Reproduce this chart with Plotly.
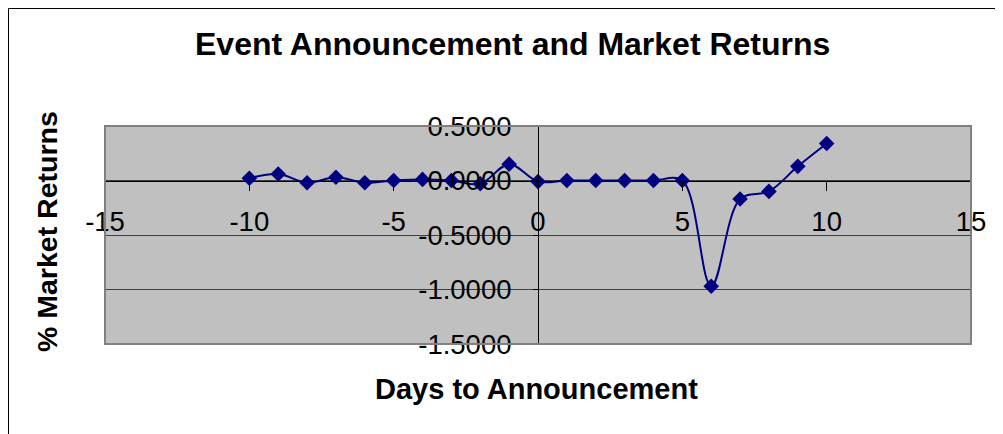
import plotly.graph_objects as go

# Data
days = list(range(-10, 11))
returns = [0.02, 0.06, -0.02, 0.03, -0.02, 0.0, 0.01, 0.0, -0.03, 0.15,
           -0.01, 0.0, 0.0, 0.0, 0.0, 0.0, -0.97, -0.17, -0.10, 0.13, 0.34]

x_ticks = [-15, -10, -5, 0, 5, 10, 15]
x_tick_text = ["-15", "-10", "-5", "0", "5", "10", "15"]
y_ticks = [0.5, 0.0, -0.5, -1.0, -1.5]
y_tick_text = ["0.5000", "0.0000", "-0.5000", "-1.0000", "-1.5000"]

title_text = "Event Announcement and Market Returns"
x_title = "Days to Announcement"
y_title = "% Market Returns"

OFF = 8  # page body margin
W, H = 1003, 434
# plot area in screen pixels
SL, SR, ST, SB = 105, 971, 126, 344
L, R, T, B = SL - OFF, SR - OFF, ST - OFF, SB - OFF
pw, ph = R - L, B - T


def px_x(p):
    return (p - OFF - L) / pw


def px_y(p):
    return (B - (p - OFF)) / ph


FONT = "Liberation Sans, Arial, sans-serif"
NAVY = "#000080"

fig = go.Figure()
fig.add_trace(go.Scatter(
    x=days, y=returns, mode="lines+markers",
    line=dict(color=NAVY, width=2, shape="spline", smoothing=1),
    marker=dict(symbol="diamond", size=12, color=NAVY),
    showlegend=False, hoverinfo="x+y",
))

fig.update_layout(
    width=W, height=H,
    margin=dict(l=L, r=W - R, t=T, b=H - B, pad=0),
    paper_bgcolor="white", plot_bgcolor="#C0C0C0",
    font=dict(family=FONT, color="black"),
    showlegend=False,
    xaxis=dict(
        range=[-15, 15], tickvals=x_ticks, ticktext=x_tick_text,
        ticks="outside", ticklen=9, tickcolor="black", tickwidth=1,
        showline=True, linecolor="black", linewidth=1,
        showgrid=False, zeroline=False,
        anchor="free", position=0.75,
        tickfont=dict(size=27.5, family=FONT, color="black"),
        ticklabelstandoff=7,
    ),
    yaxis=dict(
        range=[-1.5, 0.5], tickvals=y_ticks, ticktext=y_tick_text,
        ticks="outside", ticklen=5, tickcolor="black", tickwidth=1,
        showline=True, linecolor="black", linewidth=1,
        showgrid=True, gridcolor="#404040", gridwidth=1,
        zeroline=False,
        anchor="free", position=0.5,
        tickfont=dict(size=27.5, family=FONT, color="black"),
        ticklabelstandoff=16,
    ),
    shapes=[
        dict(type="rect", xref="paper", yref="paper",
             x0=0, x1=1, y0=0, y1=1,
             line=dict(color="#808080", width=2), layer="above"),
        dict(type="rect", xref="paper", yref="paper",
             x0=px_x(8.5), x1=px_x(1030), y0=px_y(460), y1=px_y(8.5),
             line=dict(color="black", width=1), layer="above"),
    ],
    annotations=[
        dict(text="<b>" + title_text + "</b>", xref="paper", yref="paper",
             x=px_x(512.5), y=px_y(44), xanchor="center", yanchor="middle",
             showarrow=False, font=dict(size=32, family=FONT, color="black")),
        dict(text="<b>" + x_title + "</b>", xref="paper", yref="paper",
             x=px_x(536.5), y=px_y(389), xanchor="center", yanchor="middle",
             showarrow=False, font=dict(size=29, family=FONT, color="black")),
        dict(text="<b>" + y_title + "</b>", xref="paper", yref="paper",
             x=px_x(47), y=px_y(232), xanchor="center", yanchor="middle",
             textangle=-90,
             showarrow=False, font=dict(size=28.5, family=FONT, color="black")),
    ],
)

fig.write_html("out.html")
